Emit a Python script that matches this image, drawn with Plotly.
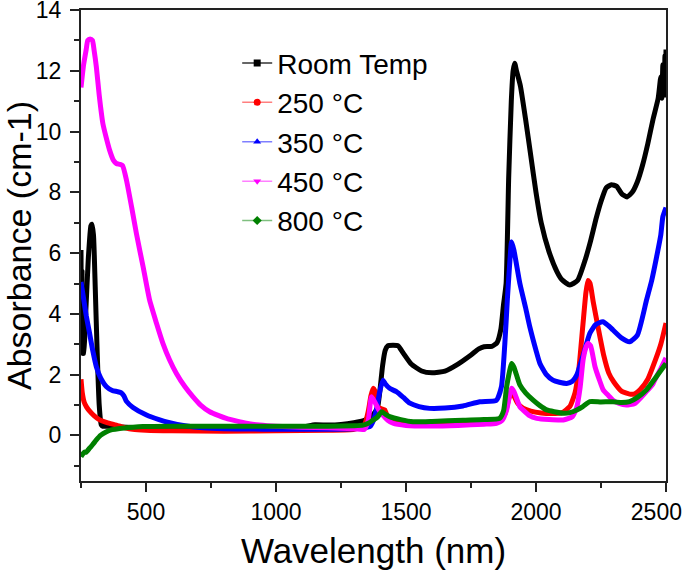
import plotly.graph_objects as go

# ---------------- data ----------------
series_names = ["Room Temp", "250 °C", "350 °C", "450 °C", "800 °C"]
series_colors = ["#000000", "#FF0000", "#0000FF", "#FF00FF", "#008000"]
legend_line_colors = ["rgba(0,0,0,0.8)", "rgba(255,0,0,0.5)", "rgba(0,0,255,0.5)",
                      "rgba(255,0,255,0.5)", "rgba(0,128,0,0.5)"]
legend_symbols = ["square", "circle", "triangle-up", "triangle-down", "diamond"]

rt_x = [250, 252, 254, 256, 260, 268, 278, 288, 292, 298, 305, 312, 320, 328, 335, 350, 400, 500,
        600, 700, 800, 900, 1000, 1100, 1150, 1200, 1250, 1300, 1340, 1370, 1390, 1400, 1410, 1420,
        1430, 1450, 1470, 1490, 1520, 1560, 1600, 1650, 1700, 1750, 1780, 1800, 1830, 1850, 1865,
        1875, 1885, 1895, 1905, 1912, 1918, 1925, 1940, 1960, 1980, 2000, 2020, 2050, 2080, 2100,
        2130, 2160, 2190, 2210, 2230, 2250, 2270, 2290, 2310, 2330, 2350, 2370, 2390, 2410, 2430,
        2450, 2470, 2480, 2484, 2488, 2490, 2493, 2496, 2498, 2500]
rt_y = [6.1, 3.0, 5.4, 2.7, 2.7, 4.0, 5.8, 6.9, 6.95, 6.6, 4.8, 2.8, 1.0, 0.35, 0.3, 0.3, 0.28, 0.25,
        0.25, 0.24, 0.24, 0.25, 0.26, 0.28, 0.35, 0.34, 0.36, 0.42, 0.5, 0.65, 0.9, 1.5, 2.3, 2.8,
        2.95, 2.97, 2.95, 2.7, 2.35, 2.12, 2.06, 2.12, 2.35, 2.65, 2.85, 2.92, 2.93, 3.05, 3.5,
        4.3, 5.0, 8.5, 11.0, 12.0, 12.25, 12.0, 11.5, 10.4, 9.2, 8.0, 7.0, 6.05, 5.4, 5.12,
        4.95, 5.1, 5.8, 6.4, 7.1, 7.7, 8.15, 8.25, 8.2, 7.95, 7.85, 8.0, 8.35, 8.9, 9.6,
        10.4, 11.1, 11.8, 11.1, 12.2, 12.0, 11.3, 12.5, 11.2, 12.7]

t250_x = [250, 255, 262, 271, 285, 300, 320, 350, 386, 420, 449, 500, 600, 800, 1000, 1200, 1300,
          1340, 1355, 1365, 1374, 1383, 1392, 1405, 1418, 1430, 1445, 1470, 1550, 1700, 1850, 1880,
          1895, 1906, 1915, 1930, 1950, 1980, 2020, 2060, 2100, 2130, 2150, 2165, 2180, 2192, 2200,
          2208, 2220, 2240, 2260, 2280, 2300, 2330, 2360, 2380, 2400, 2430, 2460, 2480, 2500]
t250_y = [1.85, 1.4, 1.1, 0.94, 0.78, 0.65, 0.52, 0.42, 0.34, 0.25, 0.2, 0.17, 0.15, 0.14, 0.15, 0.17, 0.2,
          0.35, 0.8, 1.3, 1.55, 1.4, 0.95, 0.88, 0.84, 0.6, 0.45, 0.42, 0.4, 0.42, 0.48, 0.7,
          1.2, 1.45, 1.3, 1.05, 0.9, 0.8, 0.74, 0.72, 0.75, 0.95, 1.4, 2.2, 3.6, 4.7, 5.1,
          5.0, 4.4, 3.5, 2.65, 2.05, 1.75, 1.45, 1.36, 1.37, 1.5, 1.85, 2.5, 3.0, 3.7]

t350_x = [250, 260, 270, 283, 295, 309, 325, 348, 370, 390, 405, 415, 425, 450, 502, 550, 591, 650,
          719, 800, 900, 1000, 1100, 1200, 1300, 1340, 1361, 1375, 1386, 1398, 1411, 1420, 1437, 1463,
          1490, 1515, 1550, 1591, 1650, 1719, 1784, 1848, 1867, 1880, 1890, 1900, 1906, 1915, 1938,
          1960, 1976, 2000, 2015, 2040, 2065, 2090, 2118, 2140, 2157, 2180, 2207, 2230, 2257, 2280,
          2296, 2330, 2360, 2390, 2425, 2445, 2464, 2480, 2488, 2500]
t350_y = [5.05, 4.5, 3.95, 3.36, 2.8, 2.26, 1.9, 1.6, 1.48, 1.44, 1.4, 1.3, 1.12, 0.92, 0.67, 0.52, 0.42, 0.32,
          0.25, 0.22, 0.21, 0.2, 0.2, 0.2, 0.22, 0.25, 0.29, 0.5, 0.84, 1.4, 1.82, 1.7, 1.55, 1.44,
          1.25, 1.06, 0.95, 0.89, 0.9, 0.97, 1.11, 1.16, 1.6, 3.0, 4.5, 5.8, 6.37, 6.1, 5.0,
          4.2, 3.58, 2.8, 2.37, 2.0, 1.82, 1.75, 1.71, 1.78, 1.99, 2.6, 3.36, 3.65, 3.74, 3.6,
          3.47, 3.2, 3.08, 3.3, 4.45, 5.1, 5.88, 6.6, 7.2, 7.5]

t450_x = [250, 260, 270, 276, 285, 294, 300, 309, 320, 334, 347, 360, 375, 386, 400, 410, 425, 445,
          463, 490, 514, 540, 565, 590, 617, 650, 681, 710, 745, 780, 809, 850, 886, 937, 1000, 1100,
          1200, 1300, 1340, 1355, 1367, 1380, 1395, 1411, 1430, 1450, 1500, 1591, 1700, 1800, 1848,
          1870, 1887, 1898, 1906, 1915, 1938, 1950, 1975, 2003, 2050, 2105, 2140, 2157, 2170, 2181,
          2192, 2200, 2210, 2227, 2245, 2259, 2280, 2296, 2320, 2347, 2380, 2424, 2450, 2463, 2480, 2500]
t450_y = [11.45, 12.2, 12.7, 13.0, 13.05, 13.0, 12.7, 12.13, 11.2, 10.27, 9.8, 9.39, 9.05, 8.95, 8.92, 8.88, 8.4, 7.5,
          6.65, 5.5, 4.45, 3.7, 3.03, 2.5, 2.04, 1.6, 1.27, 1.0, 0.78, 0.65, 0.56, 0.47, 0.4, 0.34, 0.3, 0.27,
          0.25, 0.22, 0.2, 0.5, 1.27, 1.1, 0.85, 0.67, 0.5, 0.4, 0.33, 0.31, 0.33, 0.37, 0.4,
          0.5, 0.84, 1.3, 1.55, 1.45, 0.94, 0.84, 0.65, 0.56, 0.52, 0.51, 0.62, 0.94, 1.6, 2.48,
          2.9, 3.03, 2.95, 2.26, 1.8, 1.49, 1.3, 1.16, 1.05, 1.0, 1.05, 1.44, 1.7, 1.93, 2.2, 2.55]

t800_x = [250, 258, 264, 270, 283, 295, 309, 325, 348, 370, 399, 450, 488, 600, 800, 1000, 1200, 1300,
          1334, 1355, 1374, 1390, 1406, 1420, 1437, 1480, 1527, 1600, 1719, 1800, 1860, 1875, 1887,
          1898, 1906, 1915, 1938, 1960, 1989, 2015, 2041, 2070, 2105, 2130, 2157, 2180, 2207, 2250,
          2296, 2330, 2360, 2390, 2424, 2460, 2494, 2500]
t800_y = [-0.7, -0.6, -0.55, -0.55, -0.42, -0.3, -0.15, 0.0, 0.12, 0.19, 0.23, 0.27, 0.29, 0.3, 0.3, 0.3, 0.3, 0.32,
          0.34, 0.4, 0.51, 0.6, 0.78, 0.7, 0.62, 0.52, 0.45, 0.46, 0.5, 0.52, 0.56, 0.8, 1.6,
          2.1, 2.37, 2.25, 1.66, 1.4, 1.16, 0.98, 0.84, 0.78, 0.73, 0.75, 0.84, 0.95, 1.11, 1.1,
          1.11, 1.08, 1.11, 1.25, 1.49, 1.9, 2.3, 2.37]

x_tick_vals = [500, 1000, 1500, 2000, 2500]
# last label padded with no-break spaces so it stays inside the page, as in the reference
x_tick_text = ["500", "1000", "1500", "2000", "2500\u00a0\u00a0\u00a0"]
y_tick_vals = [0, 2, 4, 6, 8, 10, 12, 14]

# ---------------- figure ----------------
xs = [rt_x, t250_x, t350_x, t450_x, t800_x]
ys = [rt_y, t250_y, t350_y, t450_y, t800_y]

fig = go.Figure()
for name, color, x, y in zip(series_names, series_colors, xs, ys):
    fig.add_trace(go.Scatter(x=x, y=y, mode="lines", name=name, showlegend=False,
                             line=dict(color=color, width=5, shape="spline", smoothing=0.5)))

# legend entries (line with a marker in the middle, Origin style)
for name, color, lcol, sym in zip(series_names, series_colors, legend_line_colors, legend_symbols):
    fig.add_trace(go.Scatter(x=[None], y=[None], mode="lines+markers", name=name,
                             line=dict(color=lcol, width=1.5),
                             marker=dict(symbol=sym, color=color, size=7)))

font_family = "Liberation Sans, Arial, sans-serif"
axis_common = dict(showline=True, linecolor="#222", linewidth=2, mirror=True,
                   ticks="outside", ticklen=9, tickwidth=1.5, tickcolor="#222",
                   showgrid=False, zeroline=False, automargin=False,
                   ticklabeloverflow="allow",
                   tickfont=dict(family=font_family, size=23, color="#000"))

fig.update_layout(
    width=685, height=573,
    margin=dict(l=81, r=19, t=10, b=92),
    paper_bgcolor="white", plot_bgcolor="white",
    font=dict(family=font_family, color="#000"),
    showlegend=True,
    legend=dict(x=0.267, y=0.94, xanchor="left", yanchor="top",
                bgcolor="rgba(0,0,0,0)", font=dict(family=font_family, size=28),
                itemwidth=30, tracegroupgap=0),
    xaxis=dict(range=[250, 2500], tickvals=x_tick_vals, ticktext=x_tick_text,
               minor=dict(dtick=250, tick0=0, ticks="outside", ticklen=5, tickwidth=1.5, tickcolor="#222"),
               title=dict(text="Wavelength (nm)", font=dict(family=font_family, size=35)),
               **axis_common),
    yaxis=dict(range=[-1.5, 14.001], tickvals=y_tick_vals,
               minor=dict(dtick=1, tick0=0, ticks="outside", ticklen=5, tickwidth=1.5, tickcolor="#222"),
               title=dict(text="Absorbance (cm-1)", font=dict(family=font_family, size=34)),
               ticklabelstandoff=4,
               **axis_common),
)

fig.write_html("out.html", config={"displayModeBar": False},
               post_script="document.body.style.margin='0px';")
